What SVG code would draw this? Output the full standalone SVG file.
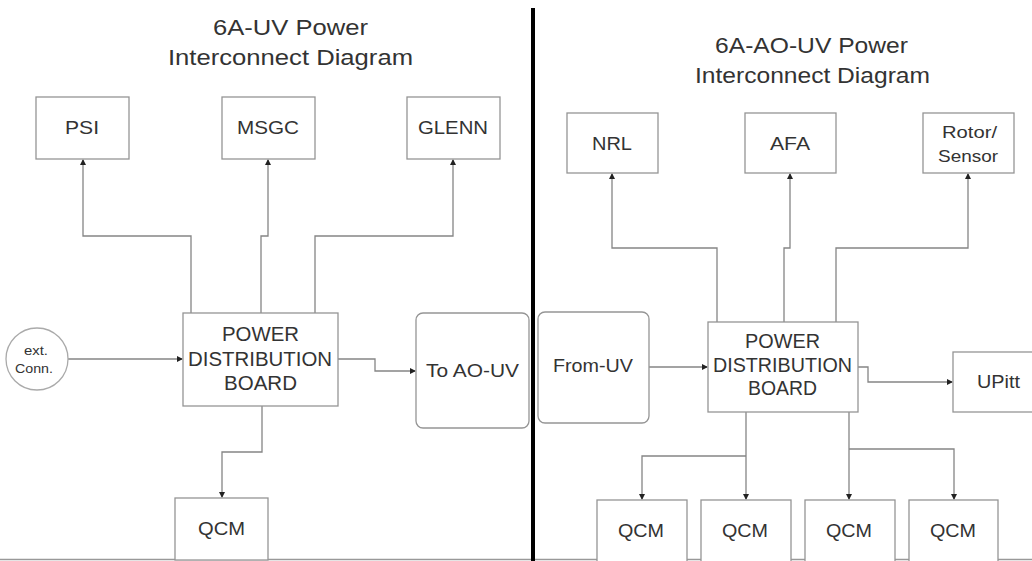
<svg xmlns="http://www.w3.org/2000/svg" width="1032" height="561" viewBox="0 0 1032 561">
<style>
.box{fill:#fff;stroke:#959595;stroke-width:1.3}
.t{font-family:"Liberation Sans",Arial,sans-serif;fill:#333;text-anchor:middle}
.title{font-size:22px}
.lbl{font-size:19px}
.pdb{font-size:19.5px}
.c{fill:none;stroke:#858585;stroke-width:1.3;marker-end:url(#ah)}
</style>
<defs>
<marker id="ah" markerWidth="6" markerHeight="6" refX="5" refY="3" orient="auto" markerUnits="userSpaceOnUse">
<path d="M0,0 L6,3 L0,6 z" fill="#222"/>
</marker>
</defs>
<rect width="1032" height="561" fill="#fff"/>
<line x1="0" y1="559.5" x2="1032" y2="559.5" stroke="#999" stroke-width="1.5"/>
<line x1="533" y1="8" x2="533" y2="561" stroke="#000" stroke-width="4"/>
<g id="titles">
<text class="t title" x="290.5" y="35" textLength="155" lengthAdjust="spacingAndGlyphs">6A-UV Power</text>
<text class="t title" x="290.5" y="65" textLength="245" lengthAdjust="spacingAndGlyphs">Interconnect Diagram</text>
<text class="t title" x="811.5" y="53" textLength="193" lengthAdjust="spacingAndGlyphs">6A-AO-UV Power</text>
<text class="t title" x="812.5" y="83" textLength="235" lengthAdjust="spacingAndGlyphs">Interconnect Diagram</text>
</g>
<g id="connectors">
<path class="c" d="M191,313 V236 H83 V160"/>
<path class="c" d="M261,313 V236 H268 V160"/>
<path class="c" d="M315,313 V236 H453 V160"/>
<path class="c" d="M68,359 H182"/>
<path class="c" d="M338,359 H375 V371 H415"/>
<path class="c" d="M262,406 V452 H222 V497"/>
<path class="c" d="M717,322 V248 H612 V174"/>
<path class="c" d="M784,322 V248 H790 V174"/>
<path class="c" d="M836,322 V248 H968 V174"/>
<path class="c" d="M649,367 H707"/>
<path class="c" d="M858,367 H868 V382 H952"/>
<path class="c" d="M746,412 V499"/>
<path class="c" d="M746,456 H642 V499"/>
<path class="c" d="M849,412 V499"/>
<path class="c" d="M849,449 H954 V499"/>
</g>
<g id="psi"><rect class="box" x="36" y="97" width="93" height="62"/><text class="t lbl" x="82" y="134" textLength="34" lengthAdjust="spacingAndGlyphs">PSI</text></g>
<g id="msgc"><rect class="box" x="222" y="97" width="93" height="62"/><text class="t lbl" x="268" y="134" textLength="62" lengthAdjust="spacingAndGlyphs">MSGC</text></g>
<g id="glenn"><rect class="box" x="407" y="97" width="93" height="62"/><text class="t lbl" x="453" y="134" textLength="70" lengthAdjust="spacingAndGlyphs">GLENN</text></g>
<g id="ext"><circle cx="37" cy="359" r="31" fill="#fff" stroke="#aaa" stroke-width="1.3"/><text class="t" style="font-size:13px" x="36" y="355" textLength="24" lengthAdjust="spacingAndGlyphs">ext.</text><text class="t" style="font-size:13px" x="34" y="373" textLength="38" lengthAdjust="spacingAndGlyphs">Conn.</text></g>
<g id="pdb-left"><rect class="box" x="183" y="313" width="155" height="93"/><text class="t pdb" x="260.5" y="341" textLength="77" lengthAdjust="spacingAndGlyphs">POWER</text><text class="t pdb" x="260" y="366" textLength="144" lengthAdjust="spacingAndGlyphs">DISTRIBUTION</text><text class="t pdb" x="260.5" y="390" textLength="73" lengthAdjust="spacingAndGlyphs">BOARD</text></g>
<g id="to-ao-uv"><rect class="box" x="416" y="313" width="113" height="115" rx="7"/><text class="t lbl" x="472.5" y="377" textLength="93" lengthAdjust="spacingAndGlyphs">To AO-UV</text></g>
<g id="qcm-left"><rect class="box" x="175" y="498" width="93" height="62"/><text class="t lbl" x="221.5" y="535" textLength="47" lengthAdjust="spacingAndGlyphs">QCM</text></g>
<g id="nrl"><rect class="box" x="567" y="113" width="91" height="60"/><text class="t lbl" x="612" y="150" textLength="40" lengthAdjust="spacingAndGlyphs">NRL</text></g>
<g id="afa"><rect class="box" x="745" y="113" width="91" height="60"/><text class="t lbl" x="790" y="150" textLength="40" lengthAdjust="spacingAndGlyphs">AFA</text></g>
<g id="rotor"><rect class="box" x="923" y="113" width="91" height="60"/><text class="t" style="font-size:17px" x="969.5" y="138" textLength="55" lengthAdjust="spacingAndGlyphs">Rotor/</text><text class="t" style="font-size:17px" x="968" y="162" textLength="60" lengthAdjust="spacingAndGlyphs">Sensor</text></g>
<g id="from-uv"><rect class="box" x="538" y="312" width="111" height="111" rx="7"/><text class="t lbl" x="593" y="372" textLength="80" lengthAdjust="spacingAndGlyphs">From-UV</text></g>
<g id="pdb-right"><rect class="box" x="708" y="322" width="150" height="90"/><text class="t pdb" x="782.5" y="348" textLength="75" lengthAdjust="spacingAndGlyphs">POWER</text><text class="t pdb" x="782.5" y="372" textLength="139" lengthAdjust="spacingAndGlyphs">DISTRIBUTION</text><text class="t pdb" x="782.5" y="395" textLength="69" lengthAdjust="spacingAndGlyphs">BOARD</text></g>
<g id="upitt"><rect class="box" x="953" y="352" width="85" height="60"/><text class="t lbl" x="998.5" y="388" textLength="43" lengthAdjust="spacingAndGlyphs">UPitt</text></g>
<g id="qcm1"><rect class="box" x="597" y="500" width="90" height="62"/><text class="t lbl" x="641" y="537" textLength="46" lengthAdjust="spacingAndGlyphs">QCM</text></g>
<g id="qcm2"><rect class="box" x="701" y="500" width="90" height="62"/><text class="t lbl" x="745" y="537" textLength="46" lengthAdjust="spacingAndGlyphs">QCM</text></g>
<g id="qcm3"><rect class="box" x="805" y="500" width="90" height="62"/><text class="t lbl" x="849" y="537" textLength="46" lengthAdjust="spacingAndGlyphs">QCM</text></g>
<g id="qcm4"><rect class="box" x="909" y="500" width="89" height="62"/><text class="t lbl" x="953" y="537" textLength="46" lengthAdjust="spacingAndGlyphs">QCM</text></g>
</svg>
